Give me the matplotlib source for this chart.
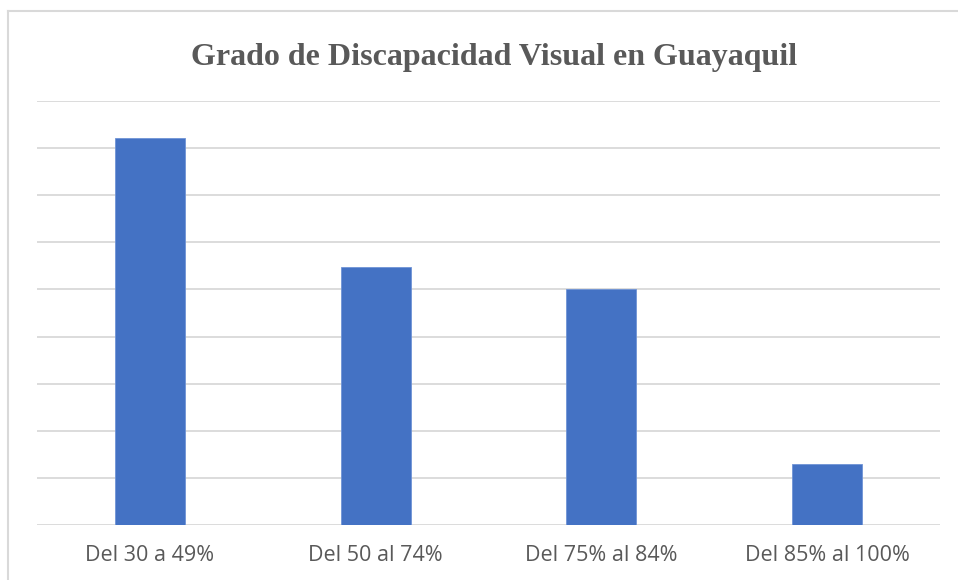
import matplotlib.pyplot as plt
from matplotlib.lines import Line2D

categories = ["Del 30 a 49%", "Del 50 al 74%", "Del 75% al 84%", "Del 85% al 100%"]
values = [8.22, 5.47, 5.0, 1.30]
grid_ticks = list(range(0, 10))
title = "Grado de Discapacidad Visual en Guayaquil"

W, H = 958, 580
fig = plt.figure(figsize=(W / 100, H / 100), dpi=100)
fig.patch.set_facecolor("white")

# outer chart frame (top and left edges visible)
fig.add_artist(Line2D([8 / W, 1.0], [1 - 11 / H, 1 - 11 / H], color="#d9d9d9", lw=1.5, transform=fig.transFigure))
fig.add_artist(Line2D([8 / W, 8 / W], [0, 1 - 11 / H], color="#d9d9d9", lw=1.5, transform=fig.transFigure))

left, right = 37 / W, 940 / W
bottom, top = 1 - 525 / H, 1 - 101 / H
ax = fig.add_axes([left, bottom, right - left, top - bottom])

x = range(len(categories))
ax.bar(x, values, width=0.31, color="#4472c4", edgecolor="#6f93d6", linewidth=0.6, zorder=3)
ax.set_xlim(-0.5, len(categories) - 0.5)
ax.set_ylim(0, 9)
ax.set_yticks(grid_ticks)
ax.yaxis.grid(True, color="#d9d9d9", linewidth=1.3, zorder=0)
ax.tick_params(axis="y", left=False, labelleft=False)
ax.tick_params(axis="x", bottom=False, pad=11)
ax.set_xticks(list(x))
ax.set_xticklabels(categories, fontsize=15.5, color="#595959", family=["Open Sans", "DejaVu Sans"])
for s in ax.spines.values():
    s.set_visible(False)

fig.text(494 / W, 1 - 58 / H, title, ha="center", va="center", fontsize=23,
         fontweight="bold", color="#595959", family=["Liberation Serif", "DejaVu Serif"])

fig.savefig("out.png", dpi=100)
